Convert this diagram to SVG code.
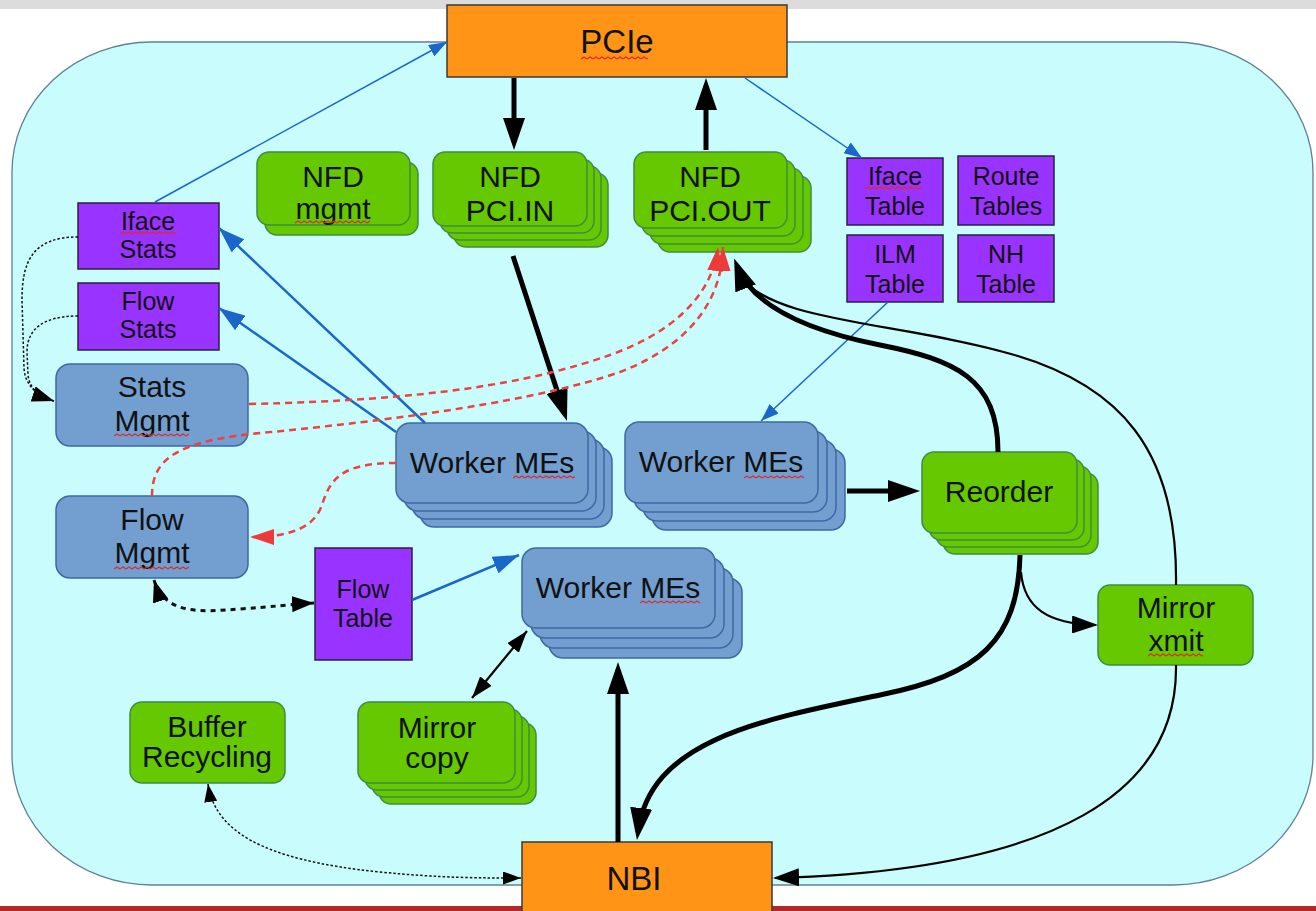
<svg xmlns="http://www.w3.org/2000/svg" width="1316" height="911" viewBox="0 0 1316 911">
  <defs>
    <style>
      .strip{fill:#dcdcdc}
      .region{fill:#c9fdfd;stroke:#5f8196;stroke-width:1.3}
      .orange{fill:#ff9416;stroke:#3a3a3a;stroke-width:1.5}
      .green{fill:#66c800;stroke:#3f8c42;stroke-width:1.5}
      .blue{fill:#729fcf;stroke:#3d6aa6;stroke-width:1.5}
      .purple{fill:#9933ff;stroke:#2d2040;stroke-width:1.5}
      text{font-family:"Liberation Sans",Arial,sans-serif;fill:#111;text-anchor:middle}
      .t{font-size:30px}
      .ts{font-size:25px}
      .tb{font-size:33px}
      .sq{fill:url(#wave)}
      .k-thick{fill:none;stroke:#000;stroke-width:5}
      .k-med{fill:none;stroke:#000;stroke-width:2.2}
      .b-thick{fill:none;stroke:#1a66c9;stroke-width:2.5}
      .b-thin{fill:none;stroke:#1a66c9;stroke-width:1.5}
      .r-dash{fill:none;stroke:#ee4040;stroke-width:2.5;stroke-dasharray:7 5}
      .k-dot{fill:none;stroke:#111;stroke-width:1.5;stroke-dasharray:2.5 2}
      .k-dot-thick{fill:none;stroke:#111;stroke-width:3;stroke-dasharray:5 5}
    </style>
    <pattern id="wave" patternUnits="userSpaceOnUse" width="6" height="4">
      <path d="M0,3 L3,1 L6,3" fill="none" stroke="#e02828" stroke-width="1.1"/>
    </pattern>
    <marker id="ak" markerUnits="userSpaceOnUse" markerWidth="32" markerHeight="22" refX="24" refY="11" orient="auto">
      <path d="M0,0 L32,11 L0,22 z" fill="#000"/>
    </marker>
    <marker id="am" markerUnits="userSpaceOnUse" markerWidth="26" markerHeight="18" refX="24" refY="9" orient="auto">
      <path d="M0,0 L26,9 L0,18 z" fill="#000"/>
    </marker>
    <marker id="ad" markerUnits="userSpaceOnUse" markerWidth="22" markerHeight="15" refX="22" refY="7.5" orient="auto-start-reverse">
      <path d="M0,0 L22,7.5 L0,15 z" fill="#000"/>
    </marker>
    <marker id="adot" markerUnits="userSpaceOnUse" markerWidth="22" markerHeight="16" refX="22" refY="8" orient="auto-start-reverse">
      <path d="M0,0 L22,8 L0,16 z" fill="#000"/>
    </marker>
    <marker id="adots" markerUnits="userSpaceOnUse" markerWidth="18" markerHeight="13" refX="18" refY="6.5" orient="auto-start-reverse">
      <path d="M0,0 L18,6.5 L0,13 z" fill="#000"/>
    </marker>
    <marker id="bb" markerUnits="userSpaceOnUse" markerWidth="26" markerHeight="18" refX="26" refY="9" orient="auto">
      <path d="M0,0 L26,9 L0,18 z" fill="#1a66c9"/>
    </marker>
    <marker id="bs" markerUnits="userSpaceOnUse" markerWidth="18" markerHeight="13" refX="18" refY="6.5" orient="auto">
      <path d="M0,0 L18,6.5 L0,13 z" fill="#1a66c9"/>
    </marker>
    <marker id="rr" markerUnits="userSpaceOnUse" markerWidth="24" markerHeight="16" refX="24" refY="8" orient="auto">
      <path d="M0,0 L24,8 L0,16 z" fill="#ee3a3a"/>
    </marker>
  </defs>

  <!-- page background -->
  <rect x="0" y="0" width="1316" height="911" fill="#ffffff"/>
  <rect class="strip" x="0" y="0" width="1316" height="9"/>
  <rect x="0" y="906" width="1316" height="5" fill="#b3292b"/>

  <!-- chip boundary -->
  <rect class="region" x="12" y="42" width="1301" height="843" rx="140" ry="130"/>

  <!-- nodes -->
  <g id="pcie">
    <rect class="orange" x="447" y="5" width="340" height="72"/>
    <text class="tb" x="617" y="53">PCIe</text>
    <rect class="sq" width="67" height="4" transform="translate(581,56)"/>
  </g>

  <g id="nbi">
    <rect class="orange" x="522" y="842" width="250" height="75"/>
    <text class="tb" x="634" y="890">NBI</text>
  </g>

  <g id="nfd-mgmt">
    <rect class="green" x="265" y="162" width="153" height="73" rx="12"/>
    <rect class="green" x="257" y="152" width="153" height="73" rx="12"/>
    <text class="t" x="333" y="187">NFD</text>
    <text class="t" x="333" y="219">mgmt</text>
    <rect class="sq" width="75" height="4" transform="translate(295,220)"/>
  </g>

  <g id="nfd-pci-in">
    <rect class="green" x="454" y="173" width="154" height="74" rx="12"/>
    <rect class="green" x="447" y="166" width="154" height="74" rx="12"/>
    <rect class="green" x="440" y="159" width="154" height="74" rx="12"/>
    <rect class="green" x="433" y="152" width="154" height="74" rx="12"/>
    <text class="t" x="510" y="187">NFD</text>
    <text class="t" x="510" y="221">PCI.IN</text>
  </g>

  <g id="nfd-pci-out">
    <rect class="green" x="658" y="176" width="153" height="76" rx="12"/>
    <rect class="green" x="650" y="168" width="153" height="76" rx="12"/>
    <rect class="green" x="642" y="160" width="153" height="76" rx="12"/>
    <rect class="green" x="634" y="152" width="153" height="76" rx="12"/>
    <text class="t" x="710" y="187">NFD</text>
    <text class="t" x="710" y="221">PCI.OUT</text>
  </g>

  <g id="iface-table">
    <rect class="purple" x="847" y="158" width="96" height="67"/>
    <text class="ts" x="895" y="185">Iface</text>
    <text class="ts" x="895" y="215">Table</text>
    <rect class="sq" width="57" height="4" transform="translate(865,186)"/>
  </g>
  <g id="route-tables">
    <rect class="purple" x="958" y="156" width="96" height="69"/>
    <text class="ts" x="1006" y="185">Route</text>
    <text class="ts" x="1006" y="215">Tables</text>
  </g>
  <g id="ilm-table">
    <rect class="purple" x="847" y="235" width="96" height="67"/>
    <text class="ts" x="895" y="263">ILM</text>
    <text class="ts" x="895" y="293">Table</text>
  </g>
  <g id="nh-table">
    <rect class="purple" x="958" y="235" width="96" height="67"/>
    <text class="ts" x="1006" y="263">NH</text>
    <text class="ts" x="1006" y="293">Table</text>
  </g>

  <g id="iface-stats">
    <rect class="purple" x="78" y="203" width="141" height="66"/>
    <text class="ts" x="148" y="230">Iface</text>
    <text class="ts" x="148" y="258">Stats</text>
    <rect class="sq" width="57" height="4" transform="translate(120,231)"/>
  </g>
  <g id="flow-stats">
    <rect class="purple" x="78" y="283" width="141" height="67"/>
    <text class="ts" x="148" y="310">Flow</text>
    <text class="ts" x="148" y="338">Stats</text>
  </g>

  <g id="stats-mgmt">
    <rect class="blue" x="56" y="364" width="192" height="82" rx="14"/>
    <text class="t" x="152" y="397">Stats</text>
    <text class="t" x="152" y="431">Mgmt</text>
    <rect class="sq" width="75" height="4" transform="translate(114,433)"/>
  </g>
  <g id="flow-mgmt">
    <rect class="blue" x="56" y="496" width="192" height="82" rx="14"/>
    <text class="t" x="152" y="530">Flow</text>
    <text class="t" x="152" y="563">Mgmt</text>
    <rect class="sq" width="75" height="4" transform="translate(114,566)"/>
  </g>

  <g id="worker-mes-1">
    <rect class="blue" x="420" y="447" width="192" height="80" rx="14"/>
    <rect class="blue" x="412" y="439" width="192" height="80" rx="14"/>
    <rect class="blue" x="404" y="431" width="192" height="80" rx="14"/>
    <rect class="blue" x="396" y="423" width="192" height="80" rx="14"/>
    <text class="t" x="492" y="473">Worker MEs</text>
    <rect class="sq" width="62" height="4" transform="translate(513,475)"/>
  </g>
  <g id="worker-mes-2">
    <rect class="blue" x="652" y="449" width="193" height="81" rx="14"/>
    <rect class="blue" x="643" y="440" width="193" height="81" rx="14"/>
    <rect class="blue" x="634" y="431" width="193" height="81" rx="14"/>
    <rect class="blue" x="625" y="422" width="193" height="81" rx="14"/>
    <text class="t" x="721" y="472">Worker MEs</text>
    <rect class="sq" width="60" height="4" transform="translate(744,475)"/>
  </g>
  <g id="worker-mes-3">
    <rect class="blue" x="549" y="578" width="193" height="80" rx="14"/>
    <rect class="blue" x="540" y="568" width="193" height="80" rx="14"/>
    <rect class="blue" x="531" y="558" width="193" height="80" rx="14"/>
    <rect class="blue" x="522" y="548" width="193" height="80" rx="14"/>
    <text class="t" x="618" y="598">Worker MEs</text>
    <rect class="sq" width="60" height="4" transform="translate(640,600)"/>
  </g>

  <g id="flow-table">
    <rect class="purple" x="315" y="548" width="97" height="112"/>
    <text class="ts" x="363" y="598">Flow</text>
    <text class="ts" x="363" y="627">Table</text>
  </g>

  <g id="reorder">
    <rect class="green" x="943" y="473" width="155" height="81" rx="12"/>
    <rect class="green" x="936" y="466" width="155" height="81" rx="12"/>
    <rect class="green" x="929" y="459" width="155" height="81" rx="12"/>
    <rect class="green" x="922" y="452" width="155" height="81" rx="12"/>
    <text class="t" x="999" y="502">Reorder</text>
  </g>

  <g id="mirror-xmit">
    <rect class="green" x="1098" y="585" width="155" height="80" rx="12"/>
    <text class="t" x="1176" y="618">Mirror</text>
    <text class="t" x="1176" y="651">xmit</text>
    <rect class="sq" width="55" height="4" transform="translate(1148,653)"/>
  </g>

  <g id="buffer-recycling">
    <rect class="green" x="130" y="702" width="155" height="81" rx="12"/>
    <text class="t" x="207" y="737">Buffer</text>
    <text class="t" x="207" y="767">Recycling</text>
  </g>

  <g id="mirror-copy">
    <rect class="green" x="379" y="723" width="157" height="81" rx="12"/>
    <rect class="green" x="372" y="716" width="157" height="81" rx="12"/>
    <rect class="green" x="365" y="709" width="157" height="81" rx="12"/>
    <rect class="green" x="358" y="702" width="157" height="81" rx="12"/>
    <text class="t" x="437" y="738">Mirror</text>
    <text class="t" x="437" y="768">copy</text>
  </g>

  <!-- connectors -->
  <g id="connectors">
    <!-- control path to/from host -->
    <path class="b-thin" d="M155,202 L447,42" marker-end="url(#bs)"/>
    <path class="b-thin" d="M745,78 L862,158" marker-end="url(#bs)"/>
    <path class="k-thick" d="M514,78 L514,142" marker-end="url(#ak)"/>
    <path class="k-thick" d="M706,150 L706,86" marker-end="url(#ak)"/>

    <!-- stats updates -->
    <path class="b-thick" d="M425,423 L219,228" marker-end="url(#bb)"/>
    <path class="b-thick" d="M396,432 L219,308" marker-end="url(#bb)"/>

    <!-- packet path -->
    <path class="k-thick" d="M513,256 L564.5,413.4" marker-end="url(#ak)"/>
    <path class="b-thin" d="M888,302 L761,421" marker-end="url(#bs)"/>
    <path class="k-thick" d="M847,491 L912,491" marker-end="url(#ak)"/>
    <path class="k-med" d="M1176,585 C1178,450 1120,385 1011,354 C900,322 770,322 741,276"/>
    <path class="k-thick" d="M998,452 C998,378 955,360 880,345 C805,330 752,305 737,266" marker-end="url(#ak)"/>
    <path class="k-thick" d="M1020,555 C1018,640 980,675 880,695 C760,720 650,740 638,832" marker-end="url(#ak)"/>
    <path class="k-med" d="M1021,572 C1024,608 1048,624 1096,625" marker-end="url(#am)"/>
    <path class="k-med" d="M1176,665 C1178,790 1060,870 775,878" marker-end="url(#am)"/>
    <path class="k-thick" d="M618,842 L618,670" marker-end="url(#ak)"/>
    <path class="k-med" d="M472,698 L527,631" marker-start="url(#ad)" marker-end="url(#ad)"/>
    <path class="b-thick" d="M412,600 L519,555" marker-end="url(#bb)"/>

    <!-- management paths -->
    <path class="k-dot-thick" d="M154,580 C165,615 200,612 240,609 C270,607 295,604 314,603" marker-start="url(#adot)" marker-end="url(#adot)"/>
    <path class="k-dot" d="M78,237 C32,237 22,262 22,300 L24,368 C25,385 36,395 54,401" marker-end="url(#adot)"/>
    <path class="k-dot" d="M78,316 C42,316 27,330 27,352 L28,375 C30,390 40,397 54,401"/>
    <path class="k-dot" d="M208,784 C215,830 260,860 380,872 C440,878 480,878 521,878" marker-start="url(#adots)" marker-end="url(#adots)"/>

    <!-- host notification paths -->
    <path class="r-dash" d="M249,404 C430,400 530,383 610,355 C680,330 713,290 718,247" marker-end="url(#rr)"/>
    <path class="r-dash" d="M152,496 C152,460 175,443 250,434 C400,420 540,400 620,372 C690,345 722,300 723,247" marker-end="url(#rr)"/>
    <path class="r-dash" d="M396,463 C340,463 330,480 322,505 C315,525 295,537 250,537" marker-end="url(#rr)"/>
  </g>
</svg>
